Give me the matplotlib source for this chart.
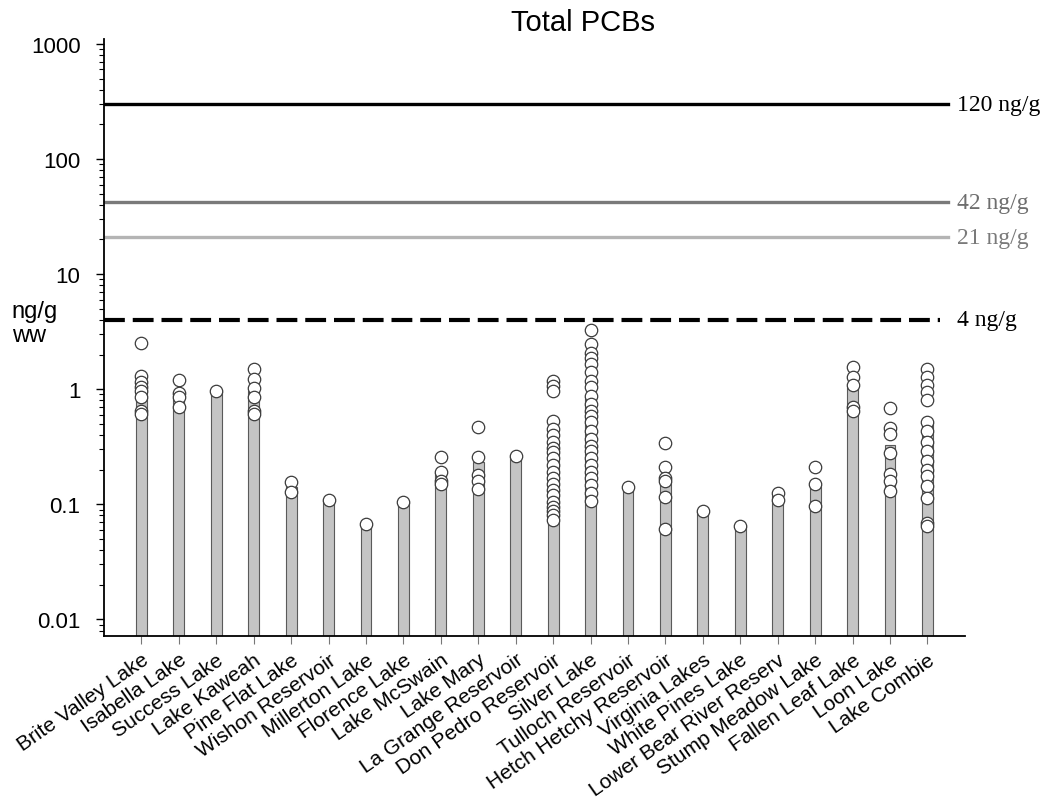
import numpy as np
import matplotlib
matplotlib.use("Agg")
import matplotlib.pyplot as plt
import matplotlib.transforms as mtransforms

# lakes (x categories)
lakes = ["Brite Valley Lake", "Isabella Lake", "Success Lake", "Lake Kaweah",
         "Pine Flat Lake", "Wishon Reservoir", "Millerton Lake", "Florence Lake",
         "Lake McSwain", "Lake Mary", "La Grange Reservoir", "Don Pedro Reservoir",
         "Silver Lake", "Tulloch Reservoir", "Hetch Hetchy Reservoir", "Virginia Lakes",
         "White Pines Lake", "Lower Bear River Reserv", "Stump Meadow Lake",
         "Fallen Leaf Lake", "Loon Lake", "Lake Combie"]

# bar heights (lake means, ng/g ww)
means = [1.15, 0.92, 0.96, 0.97, 0.14, 0.108, 0.068, 0.104, 0.19, 0.235, 0.265,
         0.33, 0.88, 0.14, 0.17, 0.087, 0.065, 0.117, 0.145, 1.04, 0.33, 0.52]

# individual samples per lake
samples = [
    [2.5, 1.29, 1.15, 1.05, 0.96, 0.85, 0.65, 0.61],
    [1.2, 0.92, 0.85, 0.70],
    [0.96],
    [1.49, 1.22, 1.02, 0.85, 0.65, 0.61],
    [0.155, 0.127],
    [0.108],
    [0.068],
    [0.104],
    [0.26, 0.19, 0.16, 0.15],
    [0.47, 0.26, 0.18, 0.16, 0.135],
    [0.265],
    [1.18, 1.07, 0.97, 0.53, 0.45, 0.40, 0.35, 0.31, 0.285, 0.25, 0.22, 0.19,
     0.17, 0.15, 0.133, 0.12, 0.105, 0.095, 0.087, 0.08, 0.073],
    [3.29, 2.49, 2.08, 1.85, 1.64, 1.40, 1.17, 1.04, 0.87, 0.74, 0.65, 0.59,
     0.52, 0.43, 0.37, 0.32, 0.29, 0.25, 0.22, 0.19, 0.17, 0.146, 0.125, 0.106],
    [0.14],
    [0.34, 0.21, 0.17, 0.16, 0.115, 0.061],
    [0.087],
    [0.065],
    [0.125, 0.108],
    [0.21, 0.15, 0.096],
    [1.55, 1.27, 1.08, 0.70, 0.65],
    [0.69, 0.46, 0.41, 0.28, 0.185, 0.16, 0.13],
    [1.49, 1.27, 1.08, 0.94, 0.80, 0.52, 0.43, 0.35, 0.29, 0.24, 0.20, 0.175,
     0.143, 0.113, 0.069, 0.065],
]

# guideline levels (drawn position) and their labels
ref_levels = [300, 42, 21, 4]
ref_labels = ["120 ng/g", "42 ng/g", "21 ng/g", "4 ng/g"]
ref_colors = ["black", "#7a7a7a", "#b4b4b4", "black"]
ref_text_colors = ["black", "#6e6e6e", "#7a7a7a", "black"]

yticks = [0.01, 0.1, 1, 10, 100, 1000]
ytick_labels = ["0.01", "0.1", "1", "10", "100", "1000"]

plt.rcParams['font.family'] = ['Liberation Sans', 'DejaVu Sans']

fig = plt.figure(figsize=(10.51, 8.03), dpi=100)
ax = fig.add_axes([0.099, 0.207, 0.819, 0.743])

x = np.arange(len(lakes))
ax.bar(x, means, width=0.29, bottom=0, color="#c4c4c4", edgecolor="#5a5a5a",
       linewidth=0.8, zorder=2)

for i, vals in enumerate(samples):
    ax.scatter([i] * len(vals), vals, s=80, facecolor="white",
               edgecolor="#3c3c3c", linewidth=0.9, zorder=3)

for lev, lab, c, tc in zip(ref_levels, ref_labels, ref_colors, ref_text_colors):
    if lab == "4 ng/g":
        ax.plot([-1, 21.35], [lev, lev], color=c, lw=3, ls=(0, (5, 1.9)),
                zorder=1, solid_capstyle="butt")
    else:
        ax.plot([-1, 21.55], [lev, lev], color=c, lw=2.4, zorder=1)
    ax.text(21.8, lev, lab, color=tc, fontsize=17, family="Liberation Serif",
            va="center", ha="left", clip_on=False)

ax.set_yscale("log")
ax.set_ylim(0.0072, 1100)
ax.set_xlim(-1, 22)
ax.set_yticks(yticks)
ax.set_yticklabels(ytick_labels, fontsize=16)
ax.set_xticks(x)
ax.set_xticklabels(lakes, fontsize=15, rotation=35, ha="right",
                   va="top", rotation_mode="anchor")
shift = mtransforms.ScaledTranslation(4 / 100, 0, fig.dpi_scale_trans)
for lbl in ax.get_xticklabels():
    lbl.set_transform(lbl.get_transform() + shift)

ax.spines["top"].set_visible(False)
ax.spines["right"].set_visible(False)
ax.spines["left"].set_linewidth(1.3)
ax.spines["bottom"].set_linewidth(1.3)
ax.tick_params(axis="y", which="major", length=6, width=1, direction="out", pad=11)
ax.tick_params(axis="y", which="minor", length=3.5, width=0.8, direction="out")
ax.tick_params(axis="x", length=6, width=0.8, color="#777777", pad=4)

fig.text(0.555, 0.962, "Total PCBs", ha="center", va="baseline", fontsize=21)
fig.text(0.011, 1 - 324 / 803, "ng/g\nww", ha="left", va="center",
         fontsize=17, linespacing=1.1)

fig.savefig("out.png", dpi=100)
